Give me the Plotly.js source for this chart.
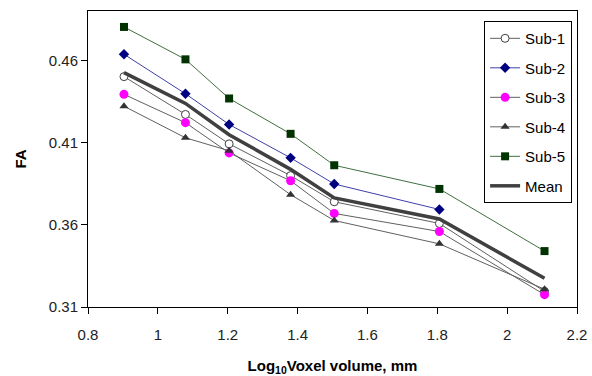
<!DOCTYPE html>
<html><head><meta charset="utf-8">
<script src="https://cdn.plot.ly/plotly-3.0.1.min.js"></script>
<style>body{margin:0;background:#fff}#c{width:592px;height:376px}</style>
</head><body><div id="c"></div>
<script>
const logVol = [0.903, 1.079, 1.204, 1.380, 1.505, 1.806, 2.107];
const logVolSub2 = [0.903, 1.079, 1.204, 1.380, 1.505, 1.806];
const sub1 = [0.4501, 0.4271, 0.4092, 0.3899, 0.3740, 0.3608, 0.3195];
const sub2 = [0.4637, 0.4397, 0.4210, 0.4007, 0.3848, 0.3693];
const sub3 = [0.4393, 0.4221, 0.4037, 0.3868, 0.3669, 0.3559, 0.3175];
const sub4 = [0.4321, 0.4129, 0.4050, 0.3783, 0.3626, 0.3484, 0.3208];
const sub5 = [0.4803, 0.4606, 0.4368, 0.4153, 0.3962, 0.3818, 0.3440];
const meanFA = [0.4525, 0.4338, 0.4148, 0.3937, 0.3763, 0.3635, 0.3275];
const xTicks = [0.8, 1, 1.2, 1.4, 1.6, 1.8, 2, 2.2];
const yTicks = [0.31, 0.36, 0.41, 0.46];

const traces = [
  {x: logVol, y: sub1, name: 'Sub-1', mode: 'lines+markers', legendgroup: 'a',
   line: {color: '#606060', width: 1}, marker: {symbol: 'circle', size: 8, color: '#ffffff', line: {color: '#404040', width: 1}}},
  {x: logVolSub2, y: sub2, name: 'Sub-2', mode: 'lines+markers', legendgroup: 'b',
   line: {color: '#4040a8', width: 1}, marker: {symbol: 'diamond', size: 8, color: '#000080'}},
  {x: logVol, y: sub3, name: 'Sub-3', mode: 'lines+markers', legendgroup: 'c',
   line: {color: '#606060', width: 1}, marker: {symbol: 'circle', size: 9, color: '#ff00ff'}},
  {x: logVol, y: sub4, name: 'Sub-4', mode: 'lines+markers', legendgroup: 'd',
   line: {color: '#606060', width: 1}, marker: {symbol: 'triangle-up', size: 8, color: '#333333'}},
  {x: logVol, y: sub5, name: 'Sub-5', mode: 'lines+markers', legendgroup: 'e',
   line: {color: '#407040', width: 1}, marker: {symbol: 'square', size: 8, color: '#003300'}},
  {x: logVol, y: meanFA, name: 'Mean', mode: 'lines', legendgroup: 'f',
   line: {color: '#404040', width: 3.5}}
];

const layout = {
  width: 592, height: 376,
  margin: {l: 88, r: 15, t: 11, b: 69},
  paper_bgcolor: '#fff', plot_bgcolor: '#fff',
  font: {family: 'Liberation Sans, Arial, sans-serif', size: 15, color: '#222'},
  showlegend: true,
  legend: {x: 0.81, y: 0.966, xanchor: 'left', yanchor: 'top', bgcolor: '#fff',
    bordercolor: '#000', borderwidth: 1, font: {size: 15, color: '#000'},
    traceorder: 'grouped', tracegroupgap: 7, itemwidth: 30},
  xaxis: {range: [0.8, 2.2], tickvals: xTicks, ticktext: xTicks.map(String),
    showgrid: false, zeroline: false, showline: true, linecolor: '#000', linewidth: 1, mirror: true,
    ticks: 'outside', ticklen: 6, tickcolor: '#000', ticklabelstandoff: 8,
    title: {text: '<b>Log<sub>10</sub>Voxel volume, mm</b>', font: {size: 15, color: '#000'}, standoff: 18}},
  yaxis: {range: [0.31, 0.49], tickvals: yTicks, ticktext: yTicks.map(v => v.toFixed(2)),
    showgrid: false, zeroline: false, showline: true, linecolor: '#000', linewidth: 1, mirror: true,
    ticks: 'outside', ticklen: 6, tickcolor: '#000',
    title: {text: '<b>FA</b>', font: {size: 15, color: '#000'}, standoff: 18}}
};
Plotly.newPlot('c', traces, layout, {displayModeBar: false, staticPlot: true});
</script></body></html>
